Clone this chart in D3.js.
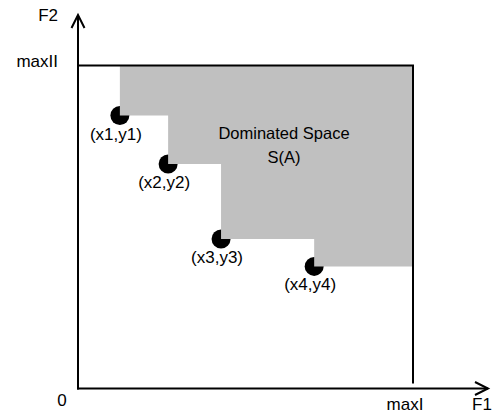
<!DOCTYPE html>
<html>
<head>
<meta charset="utf-8">
<script src="https://cdn.jsdelivr.net/npm/d3@7"></script>
<style>
  html, body { margin: 0; padding: 0; background: #fff; }
  svg text { font-family: "Liberation Sans", Arial, Helvetica, sans-serif; fill: #000; }
</style>
</head>
<body>
<svg id="chart" width="494" height="414"></svg>
<script>
// ---- data ----
const pointLabels = ["(x1,y1)", "(x2,y2)", "(x3,y3)", "(x4,y4)"];
const xValues = [1.25, 2.69, 4.27, 7.05];
const yValues = [8.45, 6.95, 4.63, 3.78];
const maxI = 10;
const maxII = 10;
const axisLabels = ["F1", "F2"];
const boundLabels = ["maxI", "maxII", "0"];
const regionLabels = ["Dominated Space", "S(A)"];

const svg = d3.select("#chart");
const x = d3.scaleLinear().domain([0, maxI]).range([78, 413]);
const y = d3.scaleLinear().domain([0, maxII]).range([388.5, 65.5]);

const pts = xValues.map((v, i) => ({ x: v, y: yValues[i], label: pointLabels[i] }));

// dots (drawn first; the dominated region covers their upper-right quarter)
svg.selectAll("circle.pt").data(pts).enter().append("circle")
  .attr("class", "pt")
  .attr("cx", d => x(d.x)).attr("cy", d => y(d.y)).attr("r", 9.5)
  .attr("fill", "#000");

// dominated region (staircase)
const poly = [];
poly.push([x(pts[0].x), y(maxII)]);
pts.forEach((p, i) => {
  poly.push([x(p.x), y(p.y)]);
  const nx = i < pts.length - 1 ? pts[i + 1].x : maxI;
  poly.push([x(nx), y(p.y)]);
});
poly.push([x(maxI), y(maxII)]);
svg.append("path")
  .attr("d", d3.line()(poly) + "Z")
  .attr("fill", "#c0c0c0");

// bound lines
svg.append("line")
  .attr("x1", x(0)).attr("x2", x(maxI) + 1)
  .attr("y1", y(maxII)).attr("y2", y(maxII))
  .attr("stroke", "#000").attr("stroke-width", 2);
svg.append("line")
  .attr("x1", x(maxI)).attr("x2", x(maxI))
  .attr("y1", y(maxII)).attr("y2", y(0) - 5)
  .attr("stroke", "#000").attr("stroke-width", 2);

// axes with arrows
const axisStroke = { stroke: "#000", "stroke-width": 2, fill: "none" };
function styled(sel) { Object.entries(axisStroke).forEach(([k, v]) => sel.attr(k, v)); return sel; }
styled(svg.append("path").attr("d", d3.line()([[x(0), y(0) + 1], [x(0), 15]])));
styled(svg.append("path").attr("d", d3.line()([[x(0) - 6.5, 28], [x(0), 15], [x(0) + 6.5, 28]])));
styled(svg.append("path").attr("d", d3.line()([[x(0) - 1, y(0)], [488, y(0)]])));
styled(svg.append("path").attr("d", d3.line()([[475, y(0) - 6.5], [488, y(0)], [475, y(0) + 6.5]])));

// point labels
svg.selectAll("text.pl").data(pts).enter().append("text")
  .attr("class", "pl")
  .attr("x", d => x(d.x) - 4).attr("y", d => y(d.y) + 24)
  .attr("text-anchor", "middle").attr("font-size", 17)
  .text(d => d.label);

// region labels
svg.append("text").attr("x", 284).attr("y", 139).attr("text-anchor", "middle")
  .attr("font-size", 16.5).text(regionLabels[0]);
svg.append("text").attr("x", 284).attr("y", 163).attr("text-anchor", "middle")
  .attr("font-size", 16.5).text(regionLabels[1]);

// axis / bound labels
svg.append("text").attr("x", 58).attr("y", 21).attr("text-anchor", "end")
  .attr("font-size", 17).text(axisLabels[1]);
svg.append("text").attr("x", 58).attr("y", 67).attr("text-anchor", "end")
  .attr("font-size", 17).text(boundLabels[1]);
svg.append("text").attr("x", 62).attr("y", 406).attr("text-anchor", "middle")
  .attr("font-size", 17).text(boundLabels[2]);
svg.append("text").attr("x", 405).attr("y", 410).attr("text-anchor", "middle")
  .attr("font-size", 17).text(boundLabels[0]);
svg.append("text").attr("x", 472).attr("y", 410).attr("text-anchor", "start")
  .attr("font-size", 17).text(axisLabels[0]);
</script>
</body>
</html>
